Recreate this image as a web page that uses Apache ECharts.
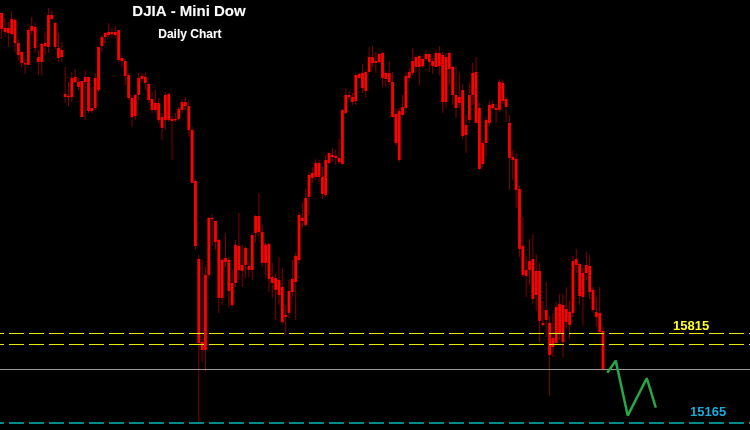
<!DOCTYPE html>
<html>
<head>
<meta charset="utf-8">
<script src="https://cdn.jsdelivr.net/npm/echarts@6/dist/echarts.min.js"></script>
<style>
html,body{margin:0;padding:0;background:#000;}
#chart{width:750px;height:430px;}
</style>
</head>
<body>
<div id="chart"></div>
<script>
// Daily OHLC (DJIA Mini Dow futures), oldest first
const open = [
18126,18018,18018,18083,18076,17909,17844,17765,18003,18032,
18025,17808,17902,17909,18112,18112,18054,17873,17859,17541,
17527,17657,17664,17628,17635,17664,17664,17440,17657,17881,
17953,17982,17989,17989,17989,18003,17801,17779,17678,17512,
17534,17657,17671,17664,17613,17505,17476,17476,17375,17534,
17541,17361,17361,17433,17483,17483,17454,17281,16913,16349,
15750,16234,16646,16646,16624,16487,16342,16357,16342,16176,
16451,16443,16306,16429,16299,16523,16660,16660,16544,16451,
16458,16220,16212,16198,16147,15945,16118,16205,16371,16667,
16646,16790,16956,16971,17043,17043,16942,17064,17115,17101,
17093,17079,17426,17534,17534,17519,17678,17686,17693,17700,
17808,17808,17779,17830,17837,17693,17693,17628,17397,17418,
17447,17671,17700,17779,17808,17816,17794,17830,17830,17779,
17837,17837,17823,17808,17837,17736,17534,17519,17570,17317,
17534,17693,17700,17440,17187,17353,17462,17469,17440,17628,
17621,17505,17332,17086,17072,16855,16443,16270,16335,16349,
16263,16263,15887,15981,15887,15779,16003,16025,16017,15988,
15967,16335,16349,16313,16248,16306,16299,16126,15967,15959,
15829];
const close = [
18011,17989,17982,17974,17909,17823,17765,17758,17751,17996,
17873,17772,17772,17888,17881,18083,17881,17801,17808,17519,
17519,17519,17628,17592,17375,17628,17418,17418,17440,17570,
17888,17953,17967,17974,17967,17787,17779,17671,17512,17375,
17382,17534,17649,17621,17498,17426,17426,17353,17296,17353,
17353,17346,17353,17361,17426,17454,17281,16898,16443,15743,
15692,15692,16234,16638,16472,16068,16068,16328,16118,16017,
16176,16270,16263,16306,16270,16270,16537,16544,16321,16321,
16205,16176,16126,16089,15894,15931,15960,16111,16183,16342,
16624,16595,16797,16934,16942,16942,16819,16812,17043,17086,
17079,17050,17036,17404,17519,17483,17491,17657,17584,17563,
17700,17765,17765,17772,17657,17649,17628,17375,17187,17064,
17389,17440,17657,17693,17736,17736,17743,17794,17772,17743,
17736,17743,17483,17483,17722,17534,17440,17476,17238,17245,
17353,17534,17332,16999,17036,17187,17332,17440,17426,17426,
17491,17447,17079,17064,16848,16422,16234,16227,16270,16061,
16089,15902,15873,15909,15656,15714,15743,15815,15750,15894,
15873,15960,16306,16082,16075,16248,16111,15981,15931,15822,
15548];
const high = [
18126,18090,18061,18141,18090,17938,17844,17794,18018,18097,
18054,17859,17909,17982,18162,18148,18061,17982,17917,17736,
17628,17700,17722,17657,17635,17714,17664,17592,17693,17881,
17967,17989,18054,18018,18032,18003,17823,17794,17693,17534,
17541,17693,17693,17700,17621,17556,17570,17512,17404,17556,
17548,17382,17404,17447,17505,17519,17498,17303,16927,16378,
16342,16292,16653,16674,16624,16494,16357,16537,16364,16270,
16487,16682,16451,16436,16328,16537,16667,16826,16595,16465,
16465,16321,16241,16364,16284,16017,16198,16342,16393,16689,
16761,16855,16978,17014,17072,17064,17014,17101,17122,17151,
17137,17216,17426,17584,17563,17548,17693,17693,17758,17714,
17881,17888,17844,17837,17844,17707,17779,17700,17440,17440,
17534,17700,17729,17873,17823,17823,17801,17859,17837,17801,
17859,17888,17844,17837,17844,17743,17743,17693,17613,17389,
17621,17765,17808,17476,17209,17375,17491,17498,17469,17649,
17642,17519,17389,17137,17115,16877,16653,16371,16494,16530,
16386,16321,16046,16183,15938,15959,16039,16097,16097,16147,
16046,16371,16422,16321,16292,16400,16378,16147,16075,16147,
15858];
const low = [
17938,17953,17881,17967,17844,17787,17736,17686,17751,17967,
17837,17678,17678,17823,17837,18076,17866,17772,17772,17476,
17454,17483,17621,17570,17375,17353,17404,17404,17426,17556,
17844,17909,17953,17946,17946,17772,17736,17606,17498,17303,
17353,17498,17621,17570,17476,17404,17404,17332,17209,17281,
17339,17064,17339,17346,17404,17426,17231,16898,16414,15172,
15606,15533,16212,16451,16414,15960,16017,16292,16003,16003,
16147,16198,16147,16212,16220,16198,16465,16508,16292,16220,
16111,16068,15909,16017,15873,15801,15923,16075,15909,16321,
16573,16581,16667,16898,16920,16906,16783,16797,17036,17057,
17028,17036,17028,17397,17498,17462,17462,17649,17548,17512,
17693,17736,17693,17765,17592,17592,17606,17375,17166,17050,
17389,17404,17628,17678,17693,17606,17729,17779,17700,17686,
17736,17678,17404,17440,17606,17462,17368,17440,17216,17115,
17332,17462,17332,16992,17014,17093,17310,17426,17332,17411,
17469,17339,16848,16920,16718,16364,16220,16075,16162,16025,
15974,15750,15858,15786,15360,15642,15728,15764,15642,15851,
15772,15931,16248,16017,15873,16198,16061,15967,15858,15815,
15541];

// horizontal levels
const resistance1 = 15815;
const resistance2 = 15735;
const lastPrice = 15553;
const target = 15165;

// projected path (bar index, price)
const projX = [181.3, 183.8, 187.4, 193.1, 195.8];
const projY = [15528, 15615, 15218, 15488, 15276];

const candles = open.map((o, i) => [i, o, close[i], low[i], high[i]]);
const proj = projX.map((x, i) => [x, projY[i]]);

const chart = echarts.init(document.getElementById('chart'));
const dash = [15, 5];
chart.setOption({
  backgroundColor: '#000000',
  animation: false,
  grid: {left: 0, right: 0, top: 0, bottom: 0},
  xAxis: {type: 'value', min: -0.5, max: 224, show: false},
  yAxis: {type: 'value', min: 15114, max: 18220, show: false, scale: true},
  graphic: [
    {type: 'text', left: 132, top: 4, style: {text: 'DJIA - Mini Dow', fill: '#ffffff', font: 'bold 15px "Liberation Sans", Arial, sans-serif', stroke: '#3a3a3a', lineWidth: 0.6}},
    {type: 'text', left: 158, top: 28, style: {text: 'Daily Chart', fill: '#ffffff', font: 'bold 12px "Liberation Sans", Arial, sans-serif', stroke: '#3a3a3a', lineWidth: 0.5}},
    {type: 'text', left: 673, top: 320, style: {text: String(resistance1), fill: '#ffff22', font: 'bold 13px "Liberation Sans", Arial, sans-serif'}},
    {type: 'text', left: 690, top: 406, style: {text: String(target), fill: '#1eaad8', font: 'bold 13px "Liberation Sans", Arial, sans-serif'}}
  ],
  series: [
    {
      type: 'custom',
      z: 2,
      data: candles,
      renderItem: function (params, api) {
        const x = api.value(0);
        const pO = api.coord([x, api.value(1)]);
        const pC = api.coord([x, api.value(2)]);
        const pL = api.coord([x, api.value(3)]);
        const pH = api.coord([x, api.value(4)]);
        const w = 2.8;
        const top = Math.min(pO[1], pC[1]);
        const h = Math.max(Math.abs(pO[1] - pC[1]), 1.4);
        return {
          type: 'group',
          children: [
            {type: 'line', shape: {x1: pH[0], y1: pH[1], x2: pL[0], y2: pL[1]}, style: {stroke: '#820000', lineWidth: 1}},
            {type: 'rect', shape: {x: pO[0] - w / 2, y: top, width: w, height: h}, style: {fill: '#ff0000'}}
          ]
        };
      }
    },
    {
      type: 'line',
      z: 6,
      data: proj,
      symbol: 'none',
      lineStyle: {color: '#25a845', width: 2.5},
      markLine: {
        silent: true,
        symbol: ['none', 'none'],
        label: {show: false},
        data: [
          {yAxis: resistance1, lineStyle: {color: '#e8e800', width: 1, type: dash, dashOffset: 11}},
          {yAxis: resistance2, lineStyle: {color: '#e8e800', width: 1, type: dash, dashOffset: 11}},
          {yAxis: lastPrice, lineStyle: {color: '#9a9a9a', width: 1, type: 'solid'}},
          {yAxis: target, lineStyle: {color: '#008a8a', width: 2, type: dash, dashOffset: 11}}
        ]
      }
    }
  ]
});
</script>
</body>
</html>
